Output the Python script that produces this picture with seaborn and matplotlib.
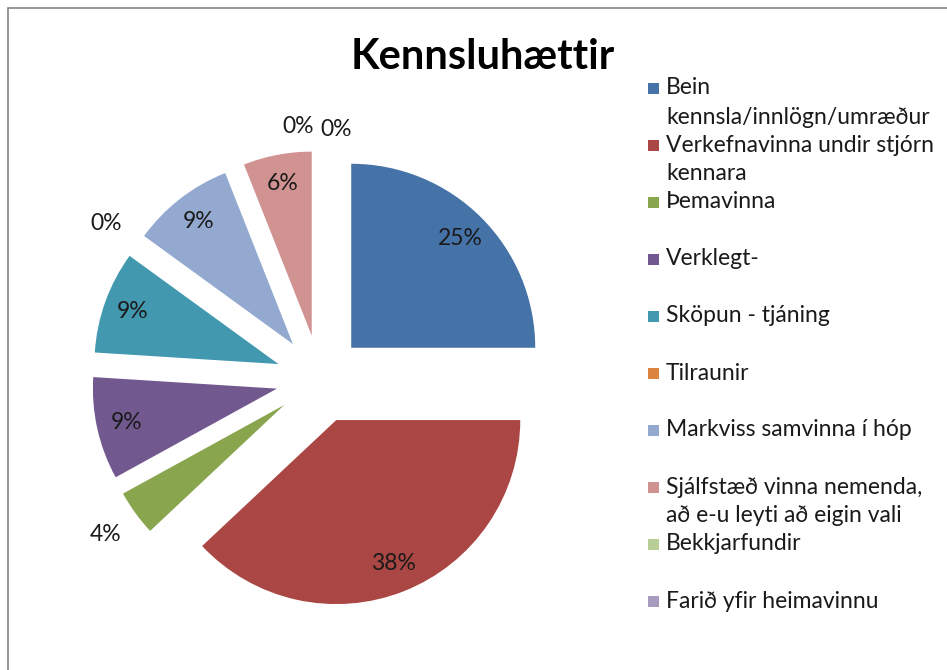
import textwrap
import numpy as np
import matplotlib
matplotlib.use('Agg')
import matplotlib.pyplot as plt
from matplotlib.patches import Rectangle
import seaborn as sns

title = 'Kennsluhættir'
categories = ['Bein kennsla/innlögn/umræður',
              'Verkefnavinna undir stjórn kennara',
              'Þemavinna',
              'Verklegt-',
              'Sköpun - tjáning',
              'Tilraunir',
              'Markviss samvinna í hóp',
              'Sjálfstæð vinna nemenda, að e-u leyti að eigin vali',
              'Bekkjarfundir',
              'Farið yfir heimavinnu']
shares = [25, 38, 4, 9, 9, 0, 9, 6, 0, 0]
palette = ['#4572A7', '#AA4643', '#89A54E', '#71588F', '#4198AF',
           '#DB843D', '#93A9CF', '#D19392', '#B9CD96', '#A99BBD']

sns.set_theme(style='white')
plt.rcParams['font.family'] = ['Lato', 'DejaVu Sans']
colors = sns.color_palette(palette)

W, H = 947, 670
fig = plt.figure(figsize=(W / 100, H / 100), dpi=100)

# chart frame like the Excel chart area
fig.patches.append(Rectangle((8 / W, -0.1), 2, 1.1 - 8 / H, transform=fig.transFigure,
                             fill=False, edgecolor='#868686', linewidth=1.2))

cx, cy, r = 320, H - 379, 184
lim = 1.6
ax = fig.add_axes([(cx - lim * r) / W, (cy - lim * r) / H, 2 * lim * r / W, 2 * lim * r / H])
wedges, texts, autotexts = ax.pie(shares, explode=[0.24] * len(shares), colors=colors,
                                  startangle=90, counterclock=False,
                                  autopct='%.0f%%', pctdistance=0.84,
                                  wedgeprops=dict(linewidth=0),
                                  textprops=dict(fontsize=16.5, color='#1a1a1a'))
ax.set_xlim(-lim, lim)
ax.set_ylim(-lim, lim)

# small / empty slices get their label outside, as excel does
top_zero = 0
for w, t, v in zip(wedges, autotexts, shares):
    if v >= 5:
        continue
    a = np.deg2rad((w.theta1 + w.theta2) / 2)
    x = w.center[0] + 1.2 * w.r * np.cos(a)
    y = w.center[1] + 1.2 * w.r * np.sin(a)
    if v == 0 and abs(np.cos(a)) < 0.01:
        # two empty slices at 12 o'clock, put them side by side
        y = w.center[1] + 1.13 * w.r
        if top_zero == 0:
            t.set_ha('right')
            x = x - 0.035
        else:
            t.set_ha('left')
            y = y - 0.015
        top_zero += 1
    t.set_position((x, y))

fig.text(483 / W, 1 - 57 / H, title, ha='center', va='center',
         fontsize=30, fontweight='bold', color='black')

# legend, one row per category
for i, (name, c) in enumerate(zip(categories, colors)):
    y = 88 + i * 57
    fig.patches.append(Rectangle((648 / W, 1 - (y + 6) / H), 11 / W, 11 / H,
                                 transform=fig.transFigure, color=c, linewidth=0))
    lines = textwrap.wrap(name, 26, break_on_hyphens=False)
    for j, ln in enumerate(lines):
        fig.text(666 / W, 1 - (y + j * 29) / H, ln, ha='left', va='center',
                 fontsize=16.5, color='#1a1a1a')

fig.savefig('out.png', dpi=100)
